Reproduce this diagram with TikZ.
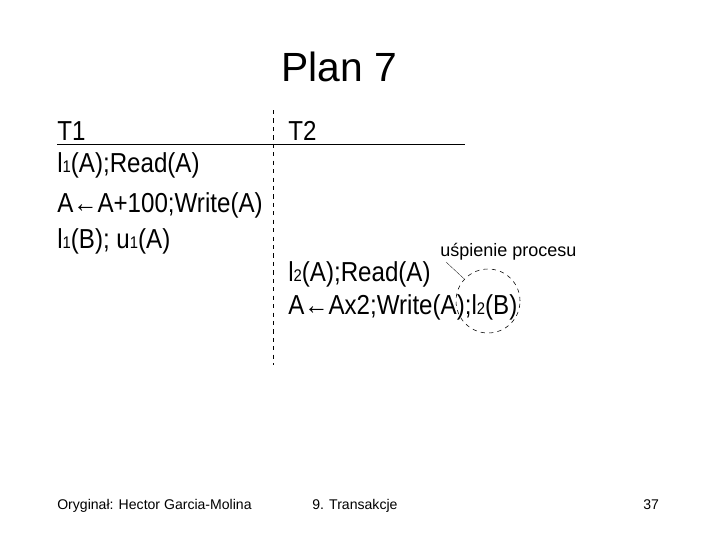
\documentclass[tikz,border=0pt]{standalone}
\usepackage{fontspec}
\setmainfont{Liberation Sans}
\newfontfamily\bodyfont{Liberation Sans}[FakeStretch=0.88]
\usepackage{tikz}
\newcommand{\idx}[1]{{\fontsize{12}{12}\selectfont #1}}

\begin{document}
\begin{tikzpicture}[x=0.025cm,y=-0.025cm]
		\useasboundingbox (0,0) rectangle (720,540);
		\tikzset{line/.style={font=\bodyfont\fontsize{19.5}{23}\selectfont,inner sep=0pt,anchor=base west}}
		\node[font=\fontsize{29}{34}\selectfont,inner sep=0pt,anchor=base] (title) at (339,81) {Plan 7};
		\draw[thin] (57,144) -- (465,144);
		\draw[dashed] (273,110) -- (273,365);
		\node[line] (t1) at (57,140) {T1};
		\node[line] (t2) at (288,140) {T2};
		\node[line] (a1) at (57,172) {l\idx{1}(A);Read(A)};
		\node[line] (a2) at (57,212) {A←A+100;Write(A)};
		\node[line] (a3) at (57,248) {l\idx{1}(B); u\idx{1}(A)};
		\node[line] (b1) at (288,281) {l\idx{2}(A);Read(A)};
		\node[line] (b2) at (288,314) {A←Ax2;Write(A);l\idx{2}(B)};
		\node[font=\fontsize{12.8}{15}\selectfont,inner sep=0pt,anchor=base west] (sleep) at (440,256) {uśpienie procesu};
		\node[draw,dashed,circle,minimum size=64*0.025cm] (wait) at (488,301) {};
		\draw[very thin] (446,262) -- (wait);
		\node[font=\fontsize{10}{12}\selectfont,inner sep=0pt,anchor=base west] (author) at (57,509) {Oryginał: Hector Garcia-Molina};
		\node[font=\fontsize{10}{12}\selectfont,inner sep=0pt,anchor=base west] (chapter) at (312,509) {9. Transakcje};
		\node[font=\fontsize{10}{12}\selectfont,inner sep=0pt,anchor=base west] (page) at (643,509) {37};
	\end{tikzpicture}
\end{document}
